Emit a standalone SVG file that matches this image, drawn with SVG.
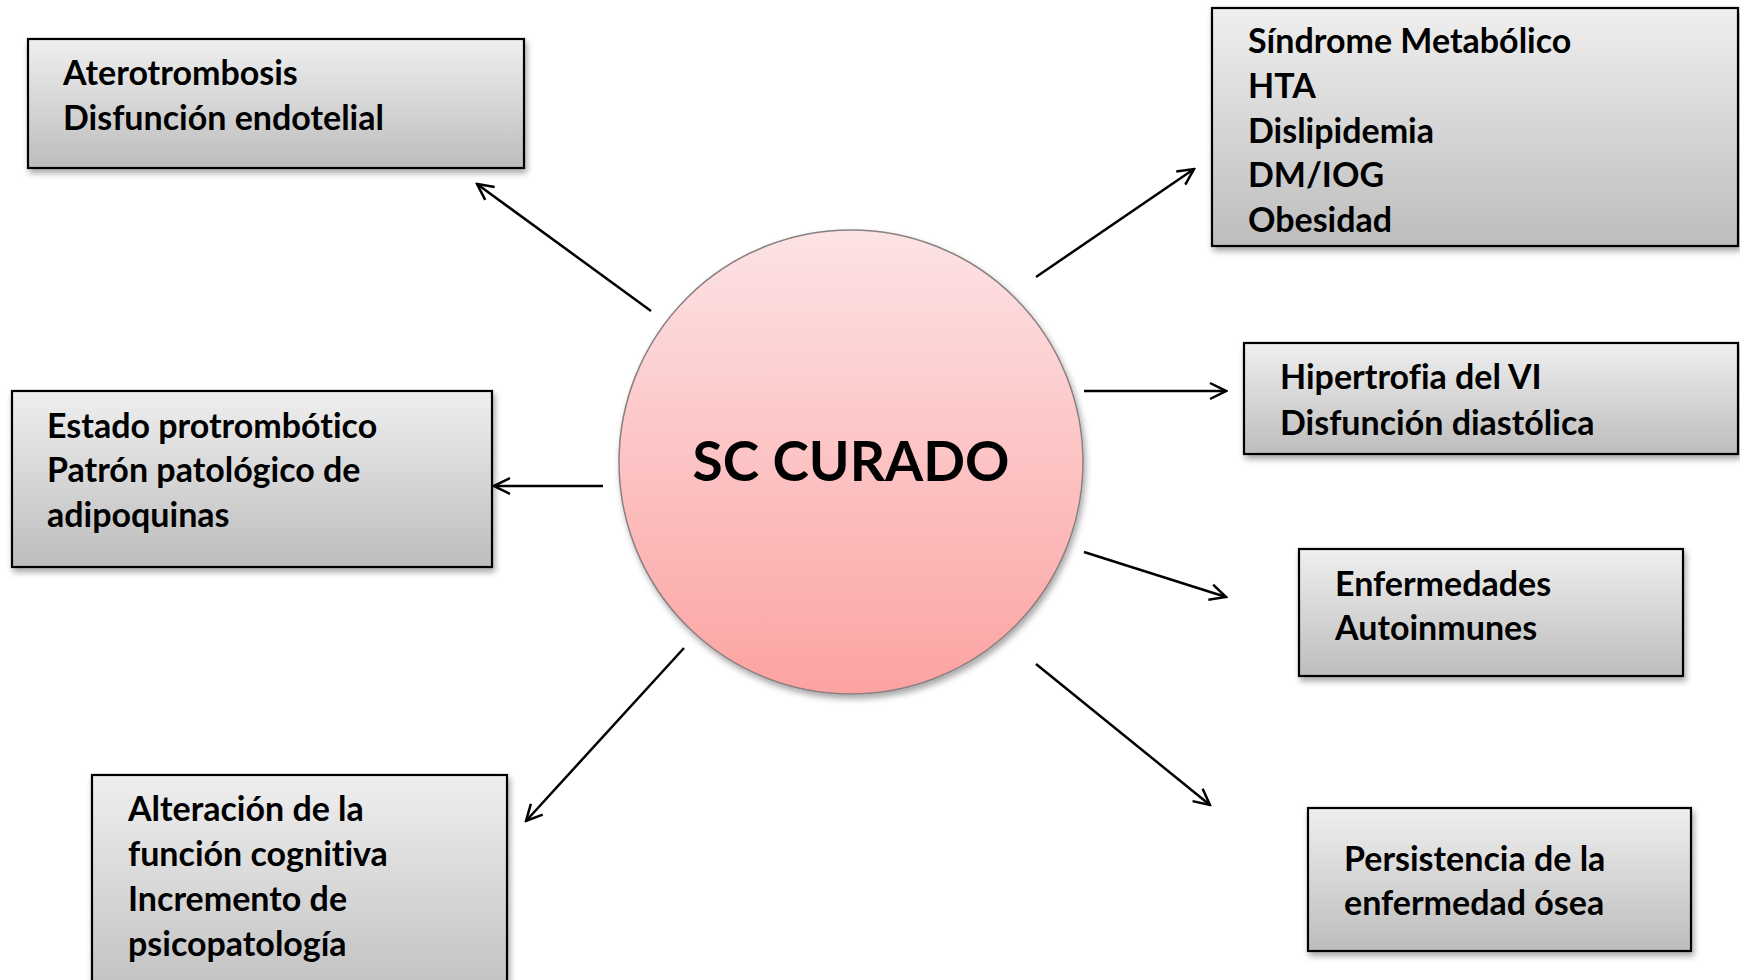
<svg xmlns="http://www.w3.org/2000/svg" width="1740" height="980" viewBox="0 0 1740 980">
<defs>
<linearGradient id="gbox" x1="0" y1="0" x2="0" y2="1">
<stop offset="0" stop-color="#efefef"/>
<stop offset="1" stop-color="#bdbdbd"/>
</linearGradient>
<linearGradient id="gcirc" x1="0" y1="0" x2="0" y2="1">
<stop offset="0" stop-color="#fde3e5"/>
<stop offset="1" stop-color="#fca3a2"/>
</linearGradient>
<filter id="sh" x="-10%" y="-10%" width="130%" height="130%">
<feDropShadow dx="2" dy="4" stdDeviation="3" flood-color="#000" flood-opacity="0.35"/>
</filter>
<marker id="arr" viewBox="0 0 20 20" refX="18" refY="10" markerWidth="20" markerHeight="20" markerUnits="userSpaceOnUse" orient="auto">
<path d="M2,2 L18,10 L2,18" fill="none" stroke="#000" stroke-width="2.5"/>
</marker>
<style>
.box{fill:url(#gbox);stroke:#000;stroke-width:2.2;filter:url(#sh)}
.t{font-family:Lato,"Liberation Sans",sans-serif;font-weight:bold;font-size:34px;fill:#000;font-variant-ligatures:none}
.c{stroke:#000;stroke-width:2.5;fill:none;marker-end:url(#arr)}
</style>
</defs>
<rect width="1740" height="980" fill="#fff"/>
<g id="connectors">
<line class="c" x1="651" y1="311" x2="477" y2="184"/>
<line class="c" x1="1036" y1="277" x2="1194" y2="169"/>
<line class="c" x1="1084" y1="391" x2="1226" y2="391"/>
<line class="c" x1="603" y1="486" x2="494" y2="486"/>
<line class="c" x1="1084" y1="552" x2="1226" y2="597"/>
<line class="c" x1="684" y1="648" x2="526" y2="821"/>
<line class="c" x1="1036" y1="664" x2="1210" y2="805"/>
</g>
<g id="center">
<circle cx="851" cy="462" r="232" fill="url(#gcirc)" stroke="#8a8080" stroke-width="1.5" filter="url(#sh)"/>
<text x="851" y="481" text-anchor="middle" font-family="Lato,'Liberation Sans',sans-serif" font-weight="bold" font-size="55">SC CURADO</text>
</g>
<g id="n1">
<rect class="box" x="28" y="39" width="496" height="129"/>
<text class="t" x="63" y="85">Aterotrombosis</text>
<text class="t" x="63" y="130">Disfunción endotelial</text>
</g>
<g id="n2">
<rect class="box" x="1212" y="8" width="526" height="238"/>
<text class="t" x="1248" y="53">Síndrome Metabólico</text>
<text class="t" x="1248" y="98">HTA</text>
<text class="t" x="1248" y="143">Dislipidemia</text>
<text class="t" x="1248" y="187">DM/IOG</text>
<text class="t" x="1248" y="232">Obesidad</text>
</g>
<g id="n3">
<rect class="box" x="1244" y="343" width="494" height="111"/>
<text class="t" x="1280" y="389">Hipertrofia del VI</text>
<text class="t" x="1280" y="435">Disfunción diastólica</text>
</g>
<g id="n4">
<rect class="box" x="1299" y="549" width="384" height="127"/>
<text class="t" x="1335" y="596">Enfermedades</text>
<text class="t" x="1335" y="640">Autoinmunes</text>
</g>
<g id="n5">
<rect class="box" x="1308" y="808" width="383" height="143"/>
<text class="t" x="1344" y="871">Persistencia de la</text>
<text class="t" x="1344" y="915">enfermedad ósea</text>
</g>
<g id="n6">
<rect class="box" x="12" y="391" width="480" height="176"/>
<text class="t" x="47" y="438">Estado protrombótico</text>
<text class="t" x="47" y="482">Patrón patológico de</text>
<text class="t" x="47" y="527">adipoquinas</text>
</g>
<g id="n7">
<rect class="box" x="92" y="775" width="415" height="240"/>
<text class="t" x="128" y="821">Alteración de la</text>
<text class="t" x="128" y="866">función cognitiva</text>
<text class="t" x="128" y="911">Incremento de</text>
<text class="t" x="128" y="956">psicopatología</text>
</g>
</svg>
